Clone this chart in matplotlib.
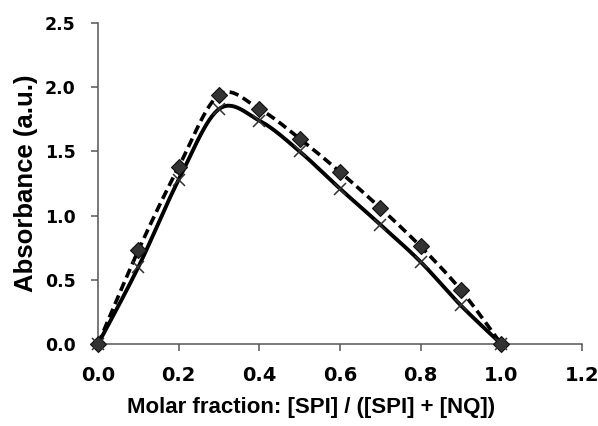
import numpy as np
import matplotlib
matplotlib.use("Agg")
import matplotlib.pyplot as plt

x = [0.0, 0.1, 0.2, 0.3, 0.4, 0.5, 0.6, 0.7, 0.8, 0.9, 1.0]
diamond_y = [0.0, 0.73, 1.38, 1.94, 1.83, 1.60, 1.34, 1.06, 0.76, 0.42, 0.0]
cross_y = [0.0, 0.60, 1.28, 1.83, 1.74, 1.50, 1.21, 0.93, 0.64, 0.30, 0.0]
xticks = [0.0, 0.2, 0.4, 0.6, 0.8, 1.0, 1.2]
yticks = [0.0, 0.5, 1.0, 1.5, 2.0, 2.5]


def smooth(xs, ys, n=30):
    # Excel-style smoothed line (bezier through the points)
    P = np.column_stack([xs, ys])
    P = np.vstack([P[0], P, P[-1]])
    t = np.linspace(0, 1, n)[:, None]
    out = []
    for i in range(1, len(P) - 2):
        p0, p1, p2, p3 = P[i - 1], P[i], P[i + 1], P[i + 2]
        c1 = p1 + (p2 - p0) / 6
        c2 = p2 - (p3 - p1) / 6
        out.append((1 - t) ** 3 * p1 + 3 * (1 - t) ** 2 * t * c1 + 3 * (1 - t) * t ** 2 * c2 + t ** 3 * p2)
    out = np.vstack(out)
    return out[:, 0], out[:, 1]


fig = plt.figure(figsize=(5.98, 4.26), dpi=100)
ax = fig.add_axes([0.164, 0.1925, 0.809, 0.7535])

sx, sy = smooth(x, diamond_y)
ax.plot(sx, sy, color="black", lw=2.6, ls=(0, (2.6, 1.4)), zorder=3)
sx, sy = smooth(x, cross_y)
ax.plot(sx, sy, color="black", lw=2.8, zorder=3)
ax.plot(x, diamond_y, ls="none", marker="D", ms=8, mfc="#333333", mec="#111111", mew=0.8, zorder=4, clip_on=False)
ax.plot(x, cross_y, ls="none", marker="x", ms=9, mec="#333333", mew=1.1, zorder=4, clip_on=False)

ax.set_xlim(0, 1.2)
ax.set_ylim(0, 2.5)
ax.set_xticks(xticks)
ax.set_yticks(yticks)
ax.set_xticklabels([f"{v:.1f}" for v in xticks])
ax.set_yticklabels([f"{v:.1f}" for v in yticks])
for s in ("top", "right"):
    ax.spines[s].set_visible(False)
for s in ("left", "bottom"):
    ax.spines[s].set_color("#555555")
    ax.spines[s].set_linewidth(1.1)
ax.tick_params(direction="out", length=5, width=1.1, color="#555555")
ax.tick_params(axis="y", pad=11)
ax.tick_params(axis="x", pad=11)
for lab in ax.get_xticklabels():
    lab.set_fontfamily("DejaVu Sans")
    lab.set_fontweight("bold")
    lab.set_fontsize(14)
for lab in ax.get_yticklabels():
    lab.set_fontfamily("DejaVu Sans")
    lab.set_fontweight("bold")
    lab.set_fontsize(12.5)
ax.set_ylabel("Absorbance (a.u.)", fontsize=18.5, fontweight="bold",
              family=["Liberation Sans", "DejaVu Sans"], labelpad=5)
ax.set_xlabel("Molar fraction: [SPI] / ([SPI] + [NQ])", fontsize=16, fontweight="bold",
              family=["Liberation Sans", "DejaVu Sans"])
ax.xaxis.set_label_coords(0.44, -0.165)

fig.savefig("out.png", dpi=100)
